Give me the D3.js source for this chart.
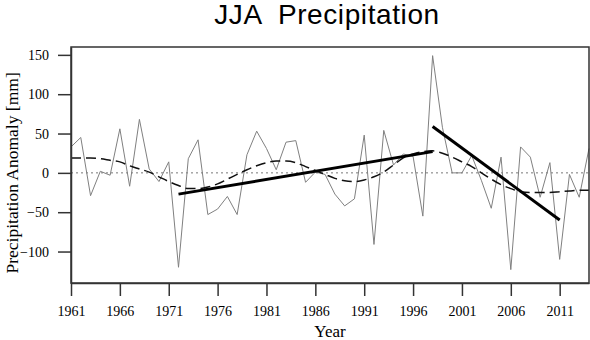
<!DOCTYPE html>
<html>
<head>
<meta charset="utf-8">
<script src="https://cdn.jsdelivr.net/npm/d3@7"></script>
<style>
  body { margin: 0; background: #fff; }
</style>
</head>
<body>
<div id="chart"></div>
<script>
var width = 590
var height = 340

// data
var years = d3.range(1961, 2015)
var anomaly = [33, 45, -29, 2, -3, 56, -17, 68, 5, -11,
    14, -120, 18, 42, -53, -46, -30, -53, 23, 53,
    31, 4, 39, 41, -12, 1, -2, -27, -42, -33,
    48, -91, 54, 10, 24, 21, -55, 149, 58, 0,
    0, 22, -10, -45, 20, -123, 33, 20, -31, 13,
    -110, -2, -31, 31]
var smooth = [19, 19, 19, 18, 16, 14, 9, 5, 1, -5,
    -11, -16, -20, -20, -18, -14, -8, -2, 4, 9,
    13, 15, 15, 13, 8, 3, -2, -7, -10, -11,
    -9, -5, 1, 10, 19, 24, 27, 28, 25, 20,
    14, 8, 0, -8, -15, -20, -24, -25, -25, -25,
    -24, -23, -22, -22]
var trend1 = [[1972, -27], [1998, 27]]
var trend2 = [[1998, 59], [2011, -60]]
var xTicks = d3.range(1961, 2012, 5)
var yTicks = [-100, -50, 0, 50, 100, 150]

var margin = { left: 71, right: 1, top: 47, bottom: 57 }

var svg = d3.select('#chart')
    .append('svg')
    .attr('width', width)
    .attr('height', height)

var x = d3.scaleLinear()
    .domain([1961, 2014])
    .range([margin.left, width - margin.right])

var y = d3.scaleLinear()
    .domain([-140, 160])
    .range([height - margin.bottom, margin.top])

var serif = "'Liberation Serif', 'Times New Roman', serif"

// zero line
svg.append('line')
    .attr('x1', x(1961)).attr('x2', x(2014))
    .attr('y1', y(0)).attr('y2', y(0))
    .attr('stroke', '#777')
    .attr('stroke-width', 1)
    .attr('stroke-dasharray', '2,3')

var line = d3.line()
    .x(function (d) { return x(d[0]) })
    .y(function (d) { return y(d[1]) })

svg.append('path')
    .datum(years.map(function (yr, i) { return [yr, anomaly[i]] }))
    .attr('d', line)
    .attr('fill', 'none')
    .attr('stroke', '#808080')
    .attr('stroke-width', 1)

svg.append('path')
    .datum(years.map(function (yr, i) { return [yr, smooth[i]] }))
    .attr('d', line.curve(d3.curveMonotoneX))
    .attr('fill', 'none')
    .attr('stroke', '#111')
    .attr('stroke-width', 1.5)
    .attr('stroke-dasharray', '10,5')

line.curve(d3.curveLinear)

svg.selectAll('.trend')
    .data([trend1, trend2])
    .enter()
    .append('path')
    .attr('class', 'trend')
    .attr('d', line)
    .attr('fill', 'none')
    .attr('stroke', '#000')
    .attr('stroke-width', 3)

// frame
svg.append('rect')
    .attr('x', margin.left)
    .attr('y', margin.top)
    .attr('width', width - margin.right - margin.left)
    .attr('height', height - margin.bottom - margin.top)
    .attr('fill', 'none')
    .attr('stroke', '#333')
    .attr('stroke-width', 1.5)

var xAxis = svg.append('g')
    .attr('transform', 'translate(0,' + (height - margin.bottom) + ')')
    .call(d3.axisBottom(x).tickValues(xTicks).tickFormat(d3.format('d'))
        .tickSize(13).tickSizeOuter(0).tickPadding(10))

var yAxis = svg.append('g')
    .attr('transform', 'translate(' + margin.left + ',0)')
    .call(d3.axisLeft(y).tickValues(yTicks)
        .tickSize(13).tickSizeOuter(0).tickPadding(9))

function styleAxis(g) {
    g.select('.domain').attr('stroke', '#333').attr('stroke-width', 1.5)
    g.selectAll('.tick line').attr('stroke', '#333').attr('stroke-width', 1.5)
    g.selectAll('.tick text')
        .attr('fill', '#000')
        .style('font-family', serif)
        .style('font-size', '14px')
}
styleAxis(xAxis)
styleAxis(yAxis)

svg.append('text')
    .attr('x', (margin.left + width - margin.right) / 2)
    .attr('y', 337)
    .attr('text-anchor', 'middle')
    .style('font-family', serif)
    .style('font-size', '17px')
    .text('Year')

svg.append('text')
    .attr('transform', 'translate(18,' + y(0) + ') rotate(-90)')
    .attr('text-anchor', 'middle')
    .style('font-family', serif)
    .style('font-size', '17.5px')
    .text('Precipitation Anomaly [mm]')

svg.append('text')
    .attr('x', 327)
    .attr('y', 24)
    .attr('text-anchor', 'middle')
    .style('font-family', "'Liberation Sans', Arial, sans-serif")
    .style('font-size', '28px')
    .style('letter-spacing', '0.6px')
    .style('white-space', 'pre')
    .text('JJA  Precipitation')
</script>
</body>
</html>
